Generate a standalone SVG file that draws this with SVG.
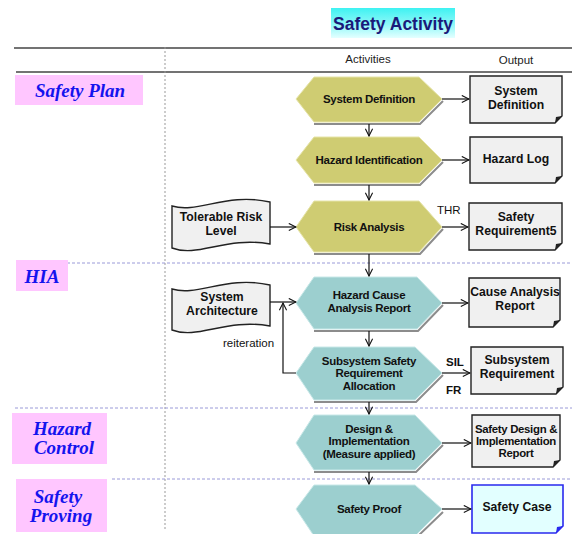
<svg xmlns="http://www.w3.org/2000/svg" width="572" height="534" viewBox="0 0 572 534">
  <defs>
    <linearGradient id="titleFill" x1="0" y1="0" x2="0" y2="1">
      <stop offset="0" stop-color="#3ef2f2"/>
      <stop offset="0.55" stop-color="#8ff8f8"/>
      <stop offset="1" stop-color="#e4ffff"/>
    </linearGradient>
    <marker id="arrow" viewBox="0 0 10 10" refX="9" refY="5" markerWidth="9" markerHeight="9" markerUnits="userSpaceOnUse" orient="auto">
      <path d="M1,1 L9,5 L1,9" fill="none" stroke="#111" stroke-width="1.2"/>
    </marker>
  </defs>
  <style>
    .rule { stroke: #444; stroke-width: 1.5; fill: none; }
    .dots { stroke: #9a9ad8; stroke-width: 1; stroke-dasharray: 3 2; fill: none; }
    .vdots { stroke: #999; stroke-width: 1; stroke-dasharray: 2 2; fill: none; }
    .phase rect { fill: #ffc6ff; }
    .phase text { font-family: "Liberation Serif", serif; font-weight: bold; font-style: italic; font-size: 19px; fill: #1414ee; text-anchor: middle; dominant-baseline: central; }
    .hex.yel polygon.body { fill: #cfcc72; stroke: #e6e4a8; stroke-width: 1; }
    .hex.teal polygon.body { fill: #9ccfcf; stroke: #c8e8e8; stroke-width: 1; }
    .hex polyline.shade { fill: none; stroke: #8c8c8c; stroke-width: 2; }
    .hex text { font-family: "Liberation Sans", Arial, sans-serif; font-weight: bold; font-size: 11.5px; letter-spacing: -0.3px; fill: #111; text-anchor: middle; dominant-baseline: central; }
    .doc path.body { fill: #f0f0f0; stroke: #222; stroke-width: 1.4; }
    .doc path.curl { fill: #222; }
    .doc text, .tape text { font-family: "Liberation Sans", Arial, sans-serif; font-weight: bold; font-size: 12.2px; fill: #111; text-anchor: middle; dominant-baseline: central; }
    .doc.final path.body { fill: #e2ffff; stroke: #2a2aee; stroke-width: 1.6; }
    .doc.final path.curl { fill: #2a2aee; }
    .tape path { fill: #f0f0f0; stroke: #222; stroke-width: 1.4; }
    .head { font-family: "Liberation Sans", Arial, sans-serif; font-size: 11.5px; fill: #222; text-anchor: middle; dominant-baseline: central; }
    .lbl { font-family: "Liberation Sans", Arial, sans-serif; font-size: 11.5px; fill: #111; dominant-baseline: central; }
    .lbl.b { font-weight: bold; }
    #connectors path { fill: none; stroke: #111; stroke-width: 1.2; marker-end: url(#arrow); }
  </style>

  <rect width="572" height="534" fill="#ffffff"/>

  <!-- heading -->
  <g id="title">
    <rect x="331" y="8" width="124" height="30" fill="url(#titleFill)"/>
    <text x="393" y="24" font-family="Liberation Sans, Arial, sans-serif" font-weight="bold" font-size="17.5px" fill="#1a1a7a" text-anchor="middle" dominant-baseline="central">Safety Activity</text>
  </g>

  <!-- table rules and separators -->
  <g id="grid">
    <line class="rule" x1="14" y1="48" x2="572" y2="48"/>
    <line class="rule" x1="16" y1="72" x2="572" y2="72"/>
    <line class="vdots" x1="165" y1="47" x2="165" y2="530"/>
    <line class="dots" x1="22" y1="263" x2="572" y2="263"/>
    <line class="dots" x1="15" y1="408" x2="572" y2="408"/>
    <line class="dots" x1="112" y1="479" x2="572" y2="479"/>
    <text class="head" x="368" y="59">Activities</text>
    <text class="head" x="516" y="60">Output</text>
  </g>

  <!-- phases -->
  <g id="phase-plan" class="phase">
    <rect x="15" y="75" width="128" height="30"/>
    <text x="80" y="90">Safety Plan</text>
  </g>
  <g id="phase-hia" class="phase">
    <rect x="16" y="260" width="52" height="31"/>
    <text x="42" y="276">HIA</text>
  </g>
  <g id="phase-control" class="phase">
    <rect x="12" y="413" width="95" height="51"/>
    <text x="62" y="428">Hazard</text>
    <text x="64" y="447">Control</text>
  </g>
  <g id="phase-proving" class="phase">
    <rect x="16" y="479" width="91" height="53"/>
    <text x="58" y="496">Safety</text>
    <text x="61" y="515">Proving</text>
  </g>

  <!-- activities -->
  <g id="act-sysdef" class="hex yel">
    <polyline class="shade" points="443,101 420,124 314,124"/>
    <polygon class="body" points="296,99 314,77 419,77 442,99 419,122 314,122"/>
    <text x="369" y="99">System Definition</text>
  </g>
  <g id="act-hazid" class="hex yel">
    <polyline class="shade" points="443,162 420,185 314,185"/>
    <polygon class="body" points="296,160 314,137 419,137 442,160 419,183 314,183"/>
    <text x="369" y="160">Hazard Identification</text>
  </g>
  <g id="act-risk" class="hex yel">
    <polyline class="shade" points="443,229 420,254 314,254"/>
    <polygon class="body" points="296,227 314,201 419,201 442,227 419,252 314,252"/>
    <text x="369" y="227">Risk Analysis</text>
  </g>
  <g id="act-cause" class="hex teal">
    <polyline class="shade" points="443,305 418,331 314,331"/>
    <polygon class="body" points="296,303 314,277 417,277 442,303 417,329 314,329"/>
    <text x="369" y="295">Hazard Cause</text>
    <text x="369" y="308">Analysis Report</text>
  </g>
  <g id="act-subsys" class="hex teal">
    <polyline class="shade" points="443,375 416,402 314,402"/>
    <polygon class="body" points="296,373 314,347 415,347 442,373 415,400 314,400"/>
    <text x="369" y="361">Subsystem Safety</text>
    <text x="369" y="373">Requirement</text>
    <text x="369" y="386">Allocation</text>
  </g>
  <g id="act-design" class="hex teal">
    <polyline class="shade" points="443,445 416,472 314,472"/>
    <polygon class="body" points="296,443 314,415 415,415 442,443 415,470 314,470"/>
    <text x="369" y="429">Design &amp;</text>
    <text x="369" y="441">Implementation</text>
    <text x="369" y="454">(Measure applied)</text>
  </g>
  <g id="act-proof" class="hex teal">
    <polyline class="shade" points="443,512 416,538 314,538"/>
    <polygon class="body" points="296,509 314,485 415,485 442,509 415,536 314,536"/>
    <text x="369" y="509">Safety Proof</text>
  </g>

  <!-- inputs -->
  <g id="in-risk" class="tape">
    <path d="M172,206 C198,214 226,192 270,202 L270,244 C226,236 198,258 172,248 Z"/>
    <text x="221" y="217">Tolerable Risk</text>
    <text x="221" y="231">Level</text>
  </g>
  <g id="in-arch" class="tape">
    <path d="M172,289 C198,297 226,275 270,285 L270,326 C226,318 198,340 172,330 Z"/>
    <text x="222" y="297">System</text>
    <text x="222" y="311">Architecture</text>
  </g>

  <!-- outputs -->
  <g id="out-sysdef" class="doc">
    <path class="body" d="M470,76 H562 V116 L555,123 H470 Z"/>
    <path class="curl" d="M555,123 L562,116 L556,117 Z"/>
    <text x="516" y="91">System</text>
    <text x="516" y="105">Definition</text>
  </g>
  <g id="out-hazlog" class="doc">
    <path class="body" d="M470,137 H562 V176 L555,183 H470 Z"/>
    <path class="curl" d="M555,183 L562,176 L556,177 Z"/>
    <text x="516" y="159">Hazard  Log</text>
  </g>
  <g id="out-safreq" class="doc">
    <path class="body" d="M469,203 H562 V243 L555,250 H469 Z"/>
    <path class="curl" d="M555,250 L562,243 L556,244 Z"/>
    <text x="516" y="217">Safety</text>
    <text x="516" y="231">Requirement5</text>
  </g>
  <g id="out-cause" class="doc">
    <path class="body" d="M469,278 H560 V320 L553,327 H469 Z"/>
    <path class="curl" d="M553,327 L560,320 L554,321 Z"/>
    <text x="515" y="292">Cause Analysis</text>
    <text x="515" y="306">Report</text>
  </g>
  <g id="out-subsys" class="doc">
    <path class="body" d="M471,347 H563 V387 L556,394 H471 Z"/>
    <path class="curl" d="M556,394 L563,387 L557,388 Z"/>
    <text x="517" y="360">Subsystem</text>
    <text x="517" y="374">Requirement</text>
  </g>
  <g id="out-design" class="doc">
    <path class="body" d="M472,415 H560 V460 L553,467 H472 Z"/>
    <path class="curl" d="M553,467 L560,460 L554,461 Z"/>
    <text x="516" y="429" style="font-size:11.4px;letter-spacing:-0.3px">Safety Design &amp;</text>
    <text x="516" y="441" style="font-size:11.4px;letter-spacing:-0.3px">Implementation</text>
    <text x="516" y="453" style="font-size:11.4px;letter-spacing:-0.3px">Report</text>
  </g>
  <g id="out-case" class="doc final">
    <path class="body" d="M472,485 H563 V526 L556,533 H472 Z"/>
    <path class="curl" d="M556,533 L563,526 L557,527 Z"/>
    <text x="517" y="507">Safety  Case</text>
  </g>

  <!-- flow annotations -->
  <g id="labels">
    <text class="lbl" x="437" y="210">THR</text>
    <text class="lbl b" x="446" y="362">SIL</text>
    <text class="lbl b" x="446" y="390">FR</text>
    <text class="lbl" x="223" y="343">reiteration</text>
  </g>

  <!-- connectors -->
  <g id="connectors">
    <path d="M369,124 V136"/>
    <path d="M369,185 V200"/>
    <path d="M369,254 V276"/>
    <path d="M369,331 V346"/>
    <path d="M369,402 V414"/>
    <path d="M369,472 V484"/>
    <path d="M442,99 H469"/>
    <path d="M442,160 H469"/>
    <path d="M442,227 H468"/>
    <path d="M442,303 H468"/>
    <path d="M442,373 H470"/>
    <path d="M442,443 H471"/>
    <path d="M442,509 H471"/>
    <path d="M270,227 H296"/>
    <path d="M270,302 H296"/>
    <path d="M296,373 H283 V303"/>
  </g>
</svg>
